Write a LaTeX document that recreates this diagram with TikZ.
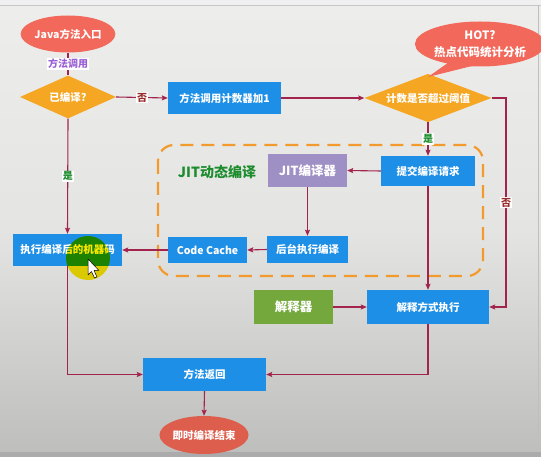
\documentclass[tikz,border=0pt]{standalone}
\usepackage{fontspec}
\setmainfont{Noto Sans CJK SC}
\usetikzlibrary{shapes.geometric,arrows.meta,positioning}
\definecolor{coral}{HTML}{F2685A}
\definecolor{coraldk}{HTML}{DE5E4E}
\definecolor{amber}{HTML}{F5A623}
\definecolor{sky}{HTML}{1E8FE6}
\definecolor{lilac}{HTML}{9E8FC4}
\definecolor{leaf}{HTML}{74A83C}
\definecolor{wine}{HTML}{A3234F}
\definecolor{dashorange}{HTML}{F39A2E}
\definecolor{jitgreen}{HTML}{1C8C2C}
\definecolor{tagpurple}{HTML}{9A5FD6}
\definecolor{tagred}{HTML}{9B2C2C}
\definecolor{bgtop}{HTML}{EDEEEC}
\definecolor{bgmid}{HTML}{E4E5E3}
\definecolor{bgbot}{HTML}{BEBFBD}
\begin{document}
\begin{tikzpicture}[x=1pt,y=-1pt,
  font=\bfseries\fontsize{10.5}{12}\selectfont,
  box/.style={rectangle,fill=sky,text=white,inner sep=0pt},
  oval/.style={ellipse,fill=coral,text=white,inner sep=0pt},
  decide/.style={diamond,fill=amber,text=white,inner sep=0pt,aspect=2.2},
  arr/.style={draw=wine,line width=1.1pt,-{Stealth[length=6pt,width=5pt,inset=1pt]}},
  plain/.style={draw=wine,line width=1.1pt},
  tag/.style={fill=white,inner sep=1pt,font=\bfseries\fontsize{10}{11}\selectfont}]
% backdrop
\useasboundingbox (0,0) rectangle (541,457);
\shade[top color=bgtop,bottom color=bgmid] (0,5) rectangle (541,230);
\shade[top color=bgmid,bottom color=bgbot] (0,230) rectangle (541,452);
\fill[white!94!black] (0,0) rectangle (541,5);
\draw[black!22,line width=0.8pt] (0,5) -- (541,5);
\fill[black!33] (0,452) rectangle (541,457);
\draw[black!25,line width=0.6pt] (538,5) -- (538,452);

% JIT group frame
\draw[dashorange,line width=2.2pt,dash pattern=on 13pt off 8pt,rounded corners=16pt]
  (158,145) rectangle (483,276);
\node[text=jitgreen,font=\bfseries\fontsize{14}{16}\selectfont] (jitlabel) at (217,172) {JIT动态编译};

% nodes
\node[oval,minimum width=77pt,minimum height=37pt] (start) at (68,34) {Java方法入口};
\node[decide,minimum width=96pt,minimum height=43pt] (dec1) at (68,97) {已编译?};
\node[box,minimum width=113pt,minimum height=32pt] (cnt) at (224.5,98) {方法调用计数器加1};
\node[decide,minimum width=127pt,minimum height=44pt] (dec2) at (428,98) {计数是否超过阈值};
\node[box,minimum width=94pt,minimum height=30pt] (submit) at (428,171) {提交编译请求};
\node[box,fill=lilac,minimum width=79pt,minimum height=33pt,font=\bfseries\fontsize{12.5}{14}\selectfont] (jit) at (307.5,170.5) {JIT编译器};
\node[box,minimum width=81pt,minimum height=27pt] (bg) at (307.5,249.5) {后台执行编译};
\node[box,minimum width=79pt,minimum height=26pt] (cache) at (207.5,250) {Code Cache};
\node[box,minimum width=109pt,minimum height=32pt] (exec) at (67.5,250) {执行编译后的机器码};
\node[box,fill=leaf,minimum width=79pt,minimum height=34pt,font=\bfseries\fontsize{12.5}{14}\selectfont] (interpr) at (293.5,307) {解释器};
\node[box,minimum width=122pt,minimum height=34pt] (interp) at (428,307) {解释方式执行};
\node[box,minimum width=123pt,minimum height=33pt] (ret) at (204.5,374.5) {方法返回};
\node[oval,fill=coraldk,minimum width=77pt,minimum height=38pt] (finish) at (204,435) {即时编译结束};

% hot-spot callout
\fill[coral] (452,60) -- (428,77) -- (472,66) -- cycle;
\node[oval,minimum width=106pt,minimum height=45pt,align=center,
  font=\bfseries\fontsize{11.5}{16.5}\selectfont] (hot) at (480,44) {HOT?\\热点代码统计分析};

% connectors
\draw[plain] (start.south) -- node[tag,text=tagpurple] {方法调用} (dec1.north);
\draw[arr] (dec1.east) -- node[tag,text=tagred] {否} (cnt.west);
\draw[arr] (cnt.east) -- (dec2.west);
\draw[arr] (dec2.south) -- node[tag,text=jitgreen] {是} (submit.north);
\coordinate (bend) at (506,98);
\draw[arr] (dec2.east) -- (bend) |- node[pos=0.25,tag,text=tagred] {否} (interp.east);
\draw[arr] (submit.west) -- (jit.east);
\draw[arr] (jit.south) -- (bg.north);
\draw[arr] (bg.west) -- (cache.east);
\draw[arr] (cache.west) -- (exec.east);
\draw[arr] (dec1.south) -- node[tag,text=jitgreen] {是} (exec.north);
\draw[arr] (submit.south) -- (interp.north);
\draw[arr] (interpr.east) -- (interp.west);
\draw[arr] (exec.south) |- (ret.west);
\draw[arr] (interp.south) |- (ret.east);
\draw[arr] (ret.south) -- (finish.north);

% pointer highlight
\begin{scope}[blend mode=multiply]
  \fill[yellow!92!orange] (88,258) circle (22);
\end{scope}
\draw[black,fill=white,line width=0.5pt,line join=round]
  (88,259) -- (88,275) -- (91.5,271.5) -- (94.5,278) -- (97,277) -- (94,270.5) -- (99,270.5) -- cycle;
\end{tikzpicture}
\end{document}
